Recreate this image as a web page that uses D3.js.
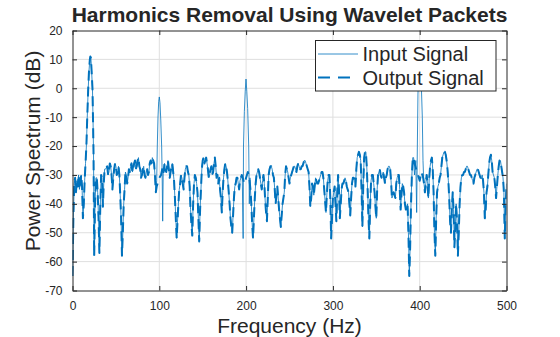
<!DOCTYPE html>
<html>
<head>
<meta charset="utf-8">
<script src="https://cdn.jsdelivr.net/npm/d3@7"></script>
<style>
  html, body { margin: 0; padding: 0; background: #fff; }
  svg { display: block; font-family: "Liberation Sans", Arial, Helvetica, sans-serif; }
</style>
</head>
<body>
<svg id="chart" width="560" height="337"></svg>
<script>
// ---------- DATA ----------
const titleText = "Harmonics Removal Using Wavelet Packets";
const xLabelText = "Frequency (Hz)";
const yLabelText = "Power Spectrum (dB)";
const seriesNames = ["Input Signal", "Output Signal"];
const xTicks = [0, 100, 200, 300, 400, 500];
const yTicks = [20, 10, 0, -10, -20, -30, -40, -50, -60, -70];

// background spectrum shared by both signals: [Hz, dB]
const noisePts = [
  [0,-65],[1,-45],[2,-33],[3,-31],[4,-36],[5,-32],[6,-34],[7,-30],[8,-35],[9,-33],[10,-30],[11,-34],[12,-45],
  [28,-31],[29,-36],[30,-45],[31,-57],[32,-41],[33,-30],[34,-31],[35,-41],[36,-33],[37,-28],[38,-28],[40,-27],[41,-30],[42,-29],
  [43,-26],[44,-27],[45,-30],[46,-35],[47,-31],[48,-28],[49,-26],[50,-27],[51,-30],[52,-29],[53,-27],[54,-30],[55,-37],
  [56,-45],[57,-58],[58,-50],[59,-40],[60,-35],[61,-29],[62,-30],[63,-33],[64,-31],[65,-28],[66,-29],[67,-27],[68,-26],
  [69,-29],[70,-28],[71,-26],[72,-25],[73,-28],[74,-27],[75,-25],[76,-24],[77,-27],[78,-28],[79,-31],[80,-30],[81,-28],
  [82,-27],[83,-30],[84,-31],[85,-29],[86,-28],[87,-30],[88,-29],[89,-26],[90,-25],[91,-26],[92,-24],[93,-25],[94,-26],
  [95,-30],[96,-36],[97,-34],[98,-33],[100,-31],[102,-30],[104,-27],[105,-29],[106,-26],[107,-28],[108,-29],[109,-27],
  [110,-25],[111,-28],[112,-31],[113,-29],[114,-27],[115,-26],[116,-29],[117,-32],[118,-38],[119,-45],[120,-52],[121,-46],
  [122,-40],[123,-35],[124,-33],[125,-30],[126,-31],[127,-33],[128,-35],[129,-31],[130,-28],[131,-27],[132,-27],[133,-29],
  [134,-30],[135,-34],[136,-42],[137,-47],[138,-51],[139,-40],[140,-33],[141,-30],[142,-31],[143,-33],[144,-36],[145,-45],
  [146,-53],[147,-42],[148,-35],[149,-28],[150,-25],[151,-24],[152,-26],[153,-25],[154,-24],[155,-26],[156,-28],[157,-31],
  [158,-30],[159,-28],[160,-27],[161,-30],[162,-29],[163,-26],[164,-24],[165,-27],[166,-31],[167,-30],[168,-33],[169,-31],
  [170,-35],[171,-38],[172,-43],[173,-36],[174,-31],[175,-28],[176,-26],[177,-27],[178,-29],[179,-32],[180,-36],[181,-40],
  [182,-45],[183,-48],[184,-50],[185,-44],[186,-38],[187,-34],[188,-33],[189,-31],[190,-31],[191,-33],[192,-35],[193,-32],
  [194,-31],[195,-30],[196,-31],[198,-33],[200,-31],[202,-29],[203,-30],[204,-32],[205,-35],[206,-40],[207,-47],[208,-52],
  [209,-45],[210,-38],[211,-33],[212,-30],[213,-29],[214,-28],[215,-29],[216,-31],[217,-33],[218,-35],[219,-32],[220,-30],
  [221,-33],[222,-39],[223,-43],[224,-46],[225,-38],[226,-30],[227,-28],[228,-27],[229,-27],[230,-28],[231,-30],[232,-31],
  [233,-35],[234,-40],[235,-37],[236,-34],[237,-38],[238,-42],[239,-45],[240,-48],[241,-44],[242,-40],[243,-38],[244,-36],
  [245,-30],[246,-27],[247,-28],[248,-29],[249,-31],[250,-33],[251,-31],[252,-30],[253,-29],[254,-28],[255,-27],[256,-27],
  [257,-28],[258,-29],[259,-27],[260,-26],[261,-27],[262,-28],[263,-28],[264,-27],[265,-27],[266,-26],[267,-25],[268,-25],
  [269,-26],[270,-27],[271,-28],[272,-29],[273,-34],[274,-41],[275,-38],[276,-33],[277,-34],[278,-37],[279,-34],[280,-31],
  [281,-32],[282,-33],[283,-33],[284,-32],[285,-31],[286,-30],[287,-29],[288,-29],[289,-31],[290,-35],[291,-39],[292,-43],
  [293,-37],[294,-32],[295,-30],[296,-30],[297,-38],[298,-52],[299,-45],[300,-38],[301,-36],[302,-34],[303,-40],[304,-46],
  [305,-36],[306,-30],[307,-35],[308,-45],[309,-40],[310,-35],[311,-33],[312,-33],[313,-32],[314,-31],[315,-32],[316,-34],
  [317,-35],[318,-36],[319,-40],[320,-44],[321,-38],[322,-33],[323,-31],[324,-31],[325,-32],[326,-34],[327,-28],[328,-24],
  [329,-23],[330,-22],[331,-23],[332,-25],[333,-35],[334,-48],[335,-33],[336,-24],[337,-22],[338,-22],[339,-27],[340,-35],
  [341,-45],[342,-52],[343,-40],[344,-32],[345,-30],[346,-30],[347,-33],[348,-36],[349,-41],[350,-45],[351,-35],[352,-30],
  [353,-29],[354,-28],[355,-30],[356,-31],[357,-30],[358,-29],[359,-31],[360,-33],[361,-31],[362,-30],[363,-28],[364,-27],
  [365,-27],[366,-28],[367,-32],[368,-38],[369,-37],[370,-36],[371,-37],[372,-38],[373,-33],[374,-31],[375,-30],[376,-30],
  [377,-35],[378,-42],[379,-37],[380,-33],[381,-34],[382,-36],[383,-40],[384,-42],[385,-41],[386,-40],[387,-50],[388,-65],
  [389,-55],[390,-40],[391,-30],[392,-24],[393,-24],[394,-26],[396,-28],[398,-30],[400,-32],[402,-29],[404,-31],[405,-33],
  [406,-36],[407,-33],[408,-30],[409,-33],[410,-38],[411,-31],[412,-27],[413,-25],[414,-24],[415,-28],[416,-36],[417,-50],
  [418,-58],[419,-45],[420,-36],[421,-34],[422,-33],[423,-31],[424,-30],[425,-27],[426,-24],[427,-23],[428,-22],[429,-22],
  [430,-23],[431,-25],[432,-28],[433,-32],[434,-38],[435,-46],[436,-50],[437,-42],[438,-36],[439,-42],[440,-55],[441,-48],
  [442,-40],[443,-46],[444,-58],[445,-50],[446,-40],[447,-34],[448,-31],[449,-30],[450,-30],[451,-29],[452,-29],[453,-28],
  [454,-27],[455,-27],[456,-28],[457,-29],[458,-30],[459,-30],[460,-31],[461,-32],[462,-33],[463,-31],[464,-30],[465,-29],
  [466,-28],[467,-28],[468,-29],[469,-30],[470,-31],[471,-31],[472,-30],[473,-32],[474,-36],[475,-45],[476,-42],[477,-36],
  [478,-34],[479,-30],[480,-26],[481,-24],[482,-23],[483,-25],[484,-29],[485,-30],[486,-31],[487,-34],[488,-38],[489,-34],
  [490,-30],[491,-27],[492,-25],[493,-25],[494,-27],[495,-29],[496,-31],[497,-36],[498,-52],[499,-42],[500,-33]
];

// fundamental (kept in both signals): [Hz, dB]
const fundamentalPts = [
  [13, -40], [14, -32], [15, -26], [16, -20], [17, -10], [18, -1], [19, 6], [20, 10],
  [20.6, 11], [21.2, 10.5], [22, 6], [23, 0], [23.6, -10], [24.2, -22], [25, -58], [26, -40], [27, -31]
];

// harmonics present only in the input signal: [Hz, dB]
const harmonic100 = [
  [97, -32], [97.7, -20], [98.5, -10], [99.3, -4.5], [100, -3], [100.8, -5],
  [101.7, -11], [102.7, -20], [103.3, -30], [103.9, -46], [104.5, -29]
];
const harmonic200 = [
  [195.6, -31], [196.6, -52], [197, -20], [198, -8], [199, -1], [199.9, 3.2],
  [200.8, -1], [201.8, -7], [203, -20], [203.7, -40], [204.4, -31]
];
const harmonic400 = [
  [394, -30], [395.5, -25], [396.5, -43], [397.3, -20], [398, -2], [399, 7],
  [400, 9], [401, 7], [402, 0], [403, -10], [403.8, -25], [404.5, -31]
];

// ---------- BUILD SERIES ----------
function splice(base, pts) {
  const lo = d3.min(pts, d => d[0]), hi = d3.max(pts, d => d[0]);
  return base.filter(d => d[0] < lo || d[0] > hi).concat(pts).sort((a, b) => a[0] - b[0]);
}
const outputSeries = splice(noisePts, fundamentalPts);
let inputSeries = outputSeries;
[harmonic100, harmonic200, harmonic400].forEach(h => { inputSeries = splice(inputSeries, h); });

// ---------- LAYOUT ----------
const svg = d3.select("#chart");
const L = 72.5, R = 506.5, T = 30.5, B = 290.5;
const textColor = "#262626";
const lineColor = "#0072BD";

const x = d3.scaleLinear().domain([0, 500]).range([L, R]);
const y = d3.scaleLinear().domain([-70, 20]).range([B, T]);

// grid
const grid = svg.append("g");
grid.selectAll(".gx").data(xTicks.slice(1, -1)).join("line")
  .attr("x1", d => x(d)).attr("x2", d => x(d)).attr("y1", T).attr("y2", B)
  .attr("stroke", "#dfdfdf").attr("stroke-width", 1);
grid.selectAll(".gy").data(yTicks.slice(1, -1)).join("line")
  .attr("y1", d => y(d)).attr("y2", d => y(d)).attr("x1", L).attr("x2", R)
  .attr("stroke", "#dfdfdf").attr("stroke-width", 1);

// clip
svg.append("clipPath").attr("id", "clip").append("rect")
  .attr("x", L).attr("y", T).attr("width", R - L).attr("height", B - T);

const line = d3.line().x(d => x(d[0])).y(d => y(d[1]));
const plot = svg.append("g").attr("clip-path", "url(#clip)");
plot.append("path").datum(inputSeries).attr("d", line)
  .attr("fill", "none").attr("stroke", lineColor).attr("stroke-width", 0.8)
  .attr("stroke-linejoin", "round");
plot.append("path").datum(outputSeries).attr("d", line)
  .attr("fill", "none").attr("stroke", lineColor).attr("stroke-width", 2)
  .attr("stroke-dasharray", "10,6").attr("stroke-linejoin", "round");

// axes (box with inward ticks)
const tl = 4.5;
const axBottom = svg.append("g").attr("transform", `translate(0,${B})`)
  .call(d3.axisBottom(x).tickValues(xTicks).tickSizeInner(-tl).tickSizeOuter(0).tickPadding(11));
const axTop = svg.append("g").attr("transform", `translate(0,${T})`)
  .call(d3.axisTop(x).tickValues(xTicks).tickSizeInner(-tl).tickSizeOuter(0).tickFormat(""));
const axLeft = svg.append("g").attr("transform", `translate(${L},0)`)
  .call(d3.axisLeft(y).tickValues(yTicks).tickSizeInner(-tl).tickSizeOuter(0).tickPadding(10));
const axRight = svg.append("g").attr("transform", `translate(${R},0)`)
  .call(d3.axisRight(y).tickValues(yTicks).tickSizeInner(-tl).tickSizeOuter(0).tickFormat(""));
[axBottom, axTop, axLeft, axRight].forEach(a => {
  a.select(".domain").attr("stroke", textColor).attr("stroke-width", 1);
  a.selectAll(".tick line").attr("stroke", textColor).attr("stroke-width", 1);
  a.selectAll(".tick text").attr("fill", textColor).style("font-size", "12px")
    .style("font-family", "'Liberation Sans', Arial, sans-serif");
});
axLeft.selectAll(".tick text").text(d => d < 0 ? "-" + Math.abs(d) : d);

// titles
svg.append("text").attr("x", (L + R) / 2).attr("y", 22).attr("text-anchor", "middle")
  .attr("fill", textColor).style("font-size", "21px").style("font-weight", "bold").text(titleText);
svg.append("text").attr("x", (L + R) / 2).attr("y", 333).attr("text-anchor", "middle")
  .attr("fill", textColor).style("font-size", "21px").text(xLabelText);
svg.append("text").attr("transform", "translate(40,151) rotate(-90)").attr("text-anchor", "middle")
  .attr("fill", textColor).style("font-size", "21px").text(yLabelText);

// legend
const lg = svg.append("g");
lg.append("rect").attr("x", 315.5).attr("y", 40.5).attr("width", 180.5).attr("height", 50.5)
  .attr("fill", "#fff").attr("stroke", textColor).attr("stroke-width", 1);
const rows = [
  { name: seriesNames[0], ly: 54, ty: 61, w: 0.8, dash: null },
  { name: seriesNames[1], ly: 77.5, ty: 84.5, w: 2, dash: "12,8" }
];
rows.forEach(r => {
  const l = lg.append("line").attr("x1", 318).attr("x2", 358).attr("y1", r.ly).attr("y2", r.ly)
    .attr("stroke", lineColor).attr("stroke-width", r.w);
  if (r.dash) l.attr("stroke-dasharray", r.dash);
  lg.append("text").attr("x", 362.5).attr("y", r.ty).attr("fill", textColor)
    .style("font-size", "20px").text(r.name);
});
</script>
</body>
</html>
